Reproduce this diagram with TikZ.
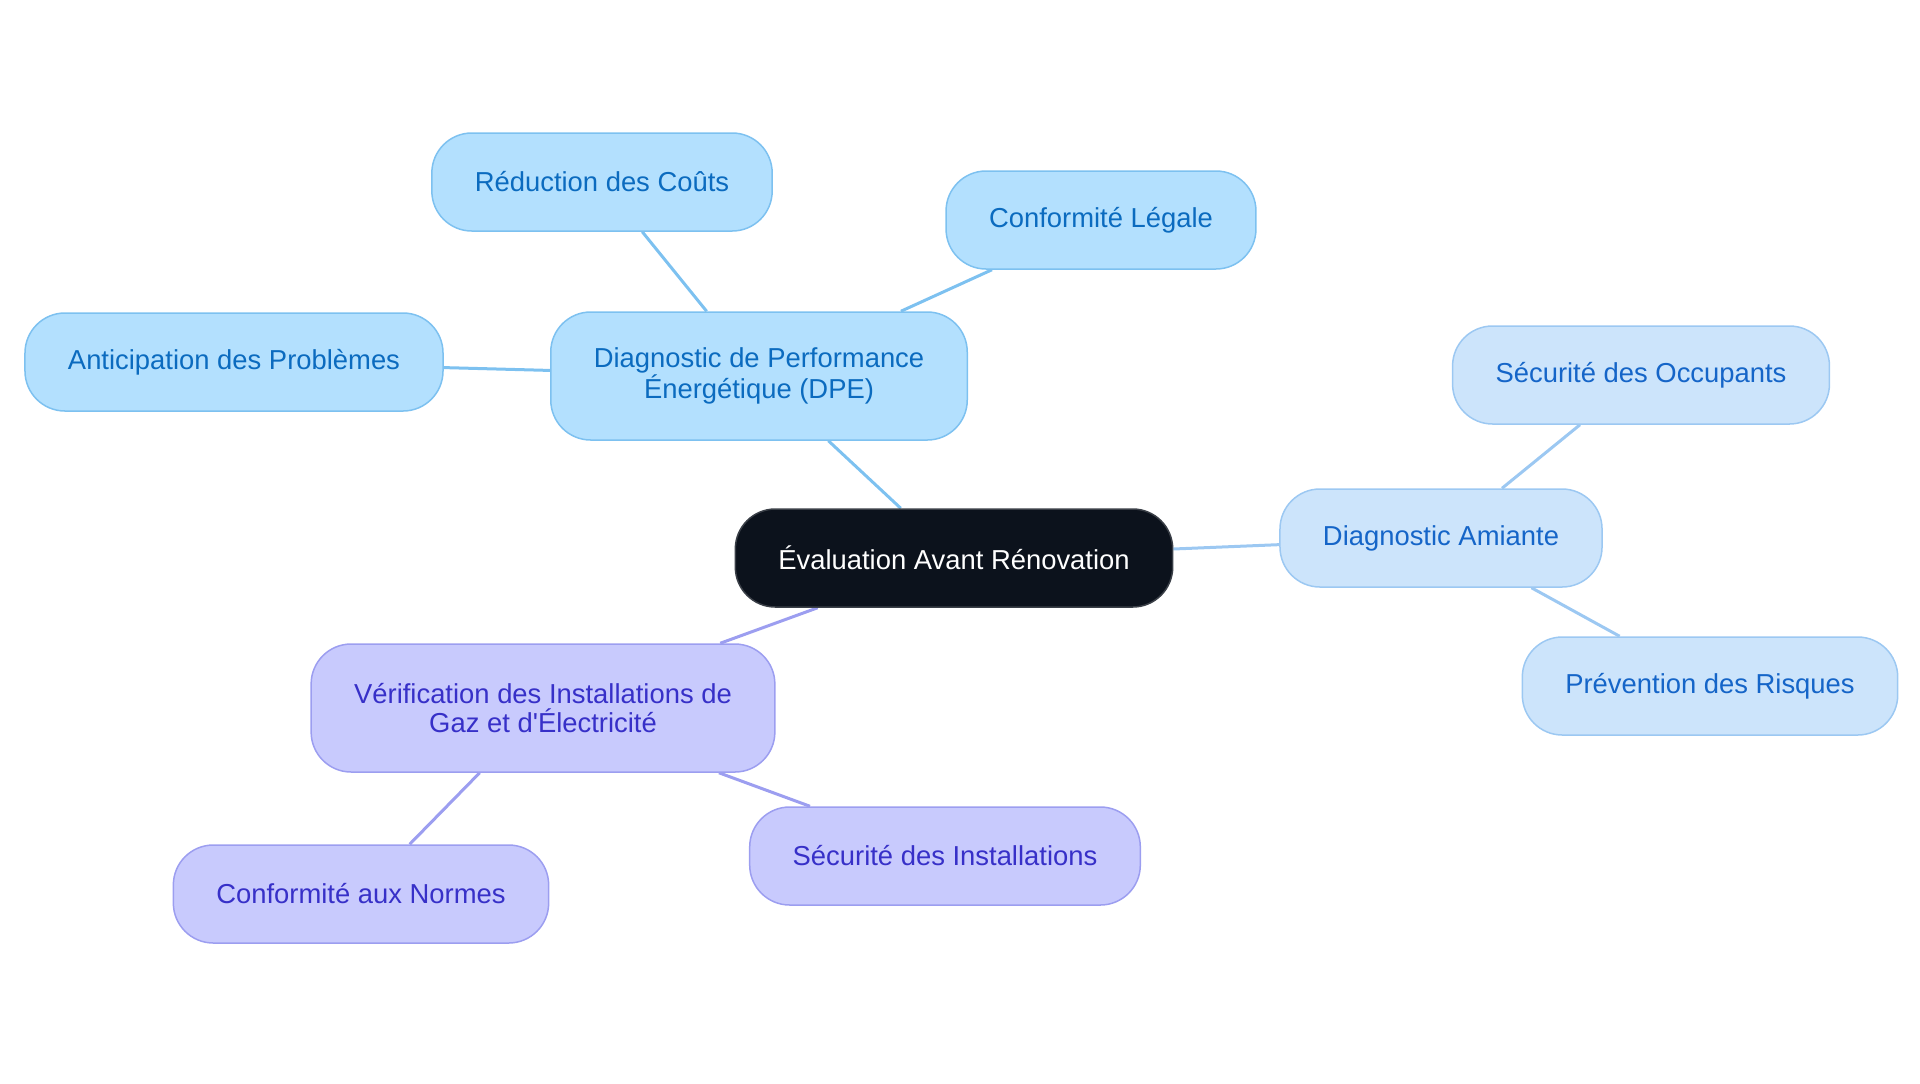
\documentclass[tikz,border=0pt]{standalone}
\usepackage{fontspec}
\setmainfont{Liberation Sans}
\usepackage{xcolor}
\usetikzlibrary{backgrounds}

\definecolor{rootfill}{HTML}{0C121C}
\definecolor{rootline}{HTML}{3A3F47}
\definecolor{dpefill}{HTML}{B3E0FE}
\definecolor{dpeline}{HTML}{7DC1F0}
\definecolor{dpetext}{HTML}{0B6BBF}
\definecolor{amifill}{HTML}{CCE4FB}
\definecolor{amiline}{HTML}{9CC8F2}
\definecolor{amitext}{HTML}{1565C8}
\definecolor{gazfill}{HTML}{C8CAFD}
\definecolor{gazline}{HTML}{9C9EF0}
\definecolor{gaztext}{HTML}{3730C8}

\tikzset{
  rootbox/.style={fill=rootfill, draw=rootline, text=white},
  dpebox/.style={fill=dpefill, draw=dpeline, text=dpetext},
  amibox/.style={fill=amifill, draw=amiline, text=amitext},
  gazbox/.style={fill=gazfill, draw=gazline, text=gaztext},
  twolines/.style={minimum height=64pt},
  dpelink/.style={draw=dpeline, line width=1.5pt},
  amilink/.style={draw=amiline, line width=1.5pt},
  gazlink/.style={draw=gazline, line width=1.5pt}
}

\begin{document}
\begin{tikzpicture}[x=0.5pt,y=-0.5pt]
    \useasboundingbox (0,0) rectangle (1920,1083);

    \begin{scope}[every node/.style = {rounded corners=20pt, line width=0.75pt,
                    align=center, inner xsep=21.5pt, minimum height=49pt,
                    font=\fontsize{13.7}{14.5}\selectfont}]
        \node[rootbox] (Root)    at (954, 558)  {Évaluation Avant Rénovation};

        \node[dpebox, twolines] (DPE) at (759, 376) {Diagnostic de Performance\\Énergétique (DPE)};
        \node[dpebox] (Couts)    at (602, 182)  {Réduction des Coûts};
        \node[dpebox] (Legale)   at (1101, 220) {Conformité Légale};
        \node[dpebox] (Antic)    at (234, 362)  {Anticipation des Problèmes};

        \node[amibox] (Amiante)  at (1441, 538) {Diagnostic Amiante};
        \node[amibox] (Occup)    at (1641, 375) {Sécurité des Occupants};
        \node[amibox] (Risques)  at (1710, 686) {Prévention des Risques};

        \node[gazbox, twolines] (Gaz) at (543, 708) {Vérification des Installations de\\Gaz et d\textquotesingle Électricité};
        \node[gazbox] (Normes)   at (361, 894)  {Conformité aux Normes};
        \node[gazbox] (Install)  at (945, 856)  {Sécurité des Installations};
    \end{scope}

    \begin{scope}[on background layer]
        \draw[dpelink] (Root) -- (DPE);
        \draw[dpelink] (DPE) -- (Couts);
        \draw[dpelink] (DPE) -- (Legale);
        \draw[dpelink] (DPE) -- (Antic);
        \draw[amilink] (Root) -- (Amiante);
        \draw[amilink] (Amiante) -- (Occup);
        \draw[amilink] (Amiante) -- (Risques);
        \draw[gazlink] (Root) -- (Gaz);
        \draw[gazlink] (Gaz) -- (Normes);
        \draw[gazlink] (Gaz) -- (Install);
    \end{scope}
\end{tikzpicture}
\end{document}
